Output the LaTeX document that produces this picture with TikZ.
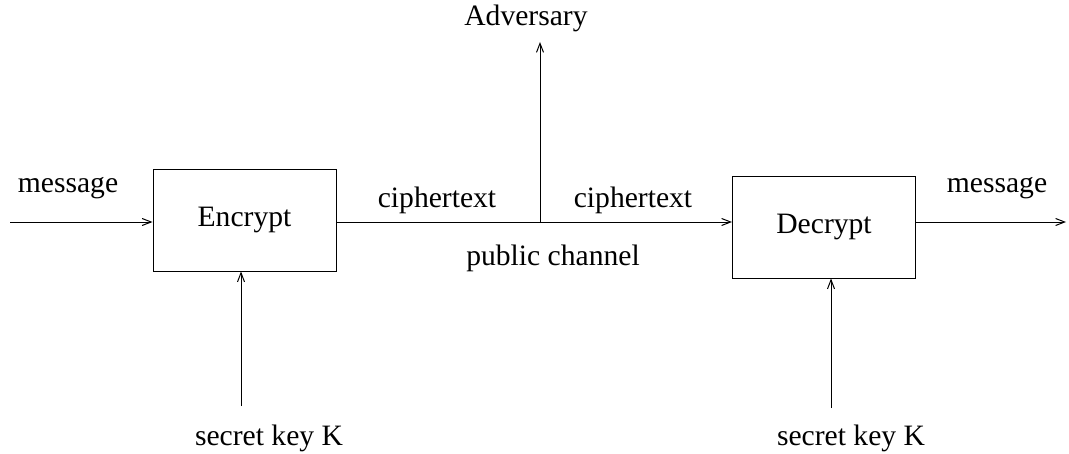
\documentclass[tikz,border=0pt]{standalone}
\usepackage{fontspec}
\setmainfont{Liberation Serif}
\usetikzlibrary{arrows.meta}
\begin{document}
\begin{tikzpicture}[x=0.5pt, y=-0.5pt, font=\fontsize{14.8}{18}\selectfont,
    line width=0.5pt, >={Straight Barb[length=4.5pt, width=3.5pt]},
    box/.style={draw, minimum width=91.5pt, minimum height=50.5pt, inner sep=0pt}]
    \useasboundingbox (0,0) rectangle (1069,454);
    \node[box] (enc) at (244.5,220.5) {Encrypt};
    \node[box] (dec) at (824,227.5) {Decrypt};
    \coordinate (msgin) at (10,222);
    \coordinate (msgout) at (1066,222);
    \coordinate (tap) at (540,222);
    \coordinate (advtip) at (540,42);
    \coordinate (keyenctail) at (241,406);
    \coordinate (keydectail) at (831,408);
    \node (adv) at (526,18) {Adversary};
    \node (keyenc) at (269,438) {secret key K};
    \node (keydec) at (851,438) {secret key K};
    \node (msgl) at (68,188) {message};
    \node (msgr) at (997,188) {message};
    \node (ctl) at (437,200) {ciphertext};
    \node (ctr) at (633,200) {ciphertext};
    \node (pub) at (553,258) {public channel};
    \draw[->] (msgin) -- (msgin -| enc.west);
    \draw[->] (msgin -| enc.east) -- (msgin -| dec.west);
    \draw[->] (tap) -- (advtip);
    \draw[->] (msgin -| dec.east) -- (msgout);
    \draw[->] (keyenctail) -- (keyenctail |- enc.south);
    \draw[->] (keydectail) -- (keydectail |- dec.south);
\end{tikzpicture}
\end{document}
